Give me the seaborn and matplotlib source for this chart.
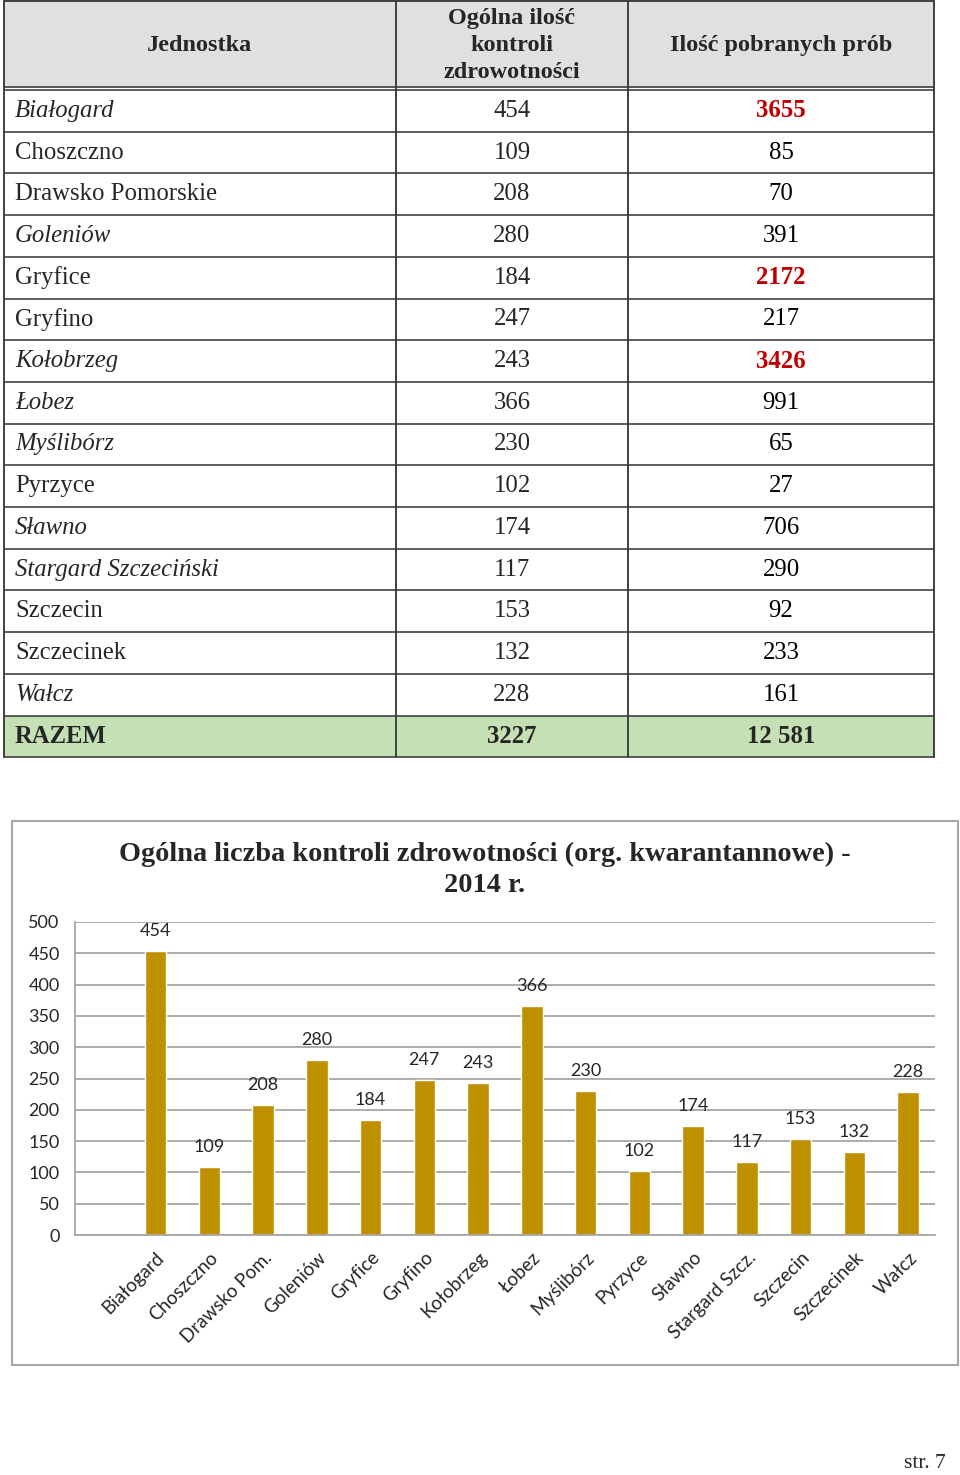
import numpy as np
import pandas as pd
import seaborn as sns
import matplotlib.pyplot as plt
from matplotlib.patches import Rectangle

# table data
units = ["Białogard", "Choszczno", "Drawsko Pomorskie", "Goleniów", "Gryfice", "Gryfino",
         "Kołobrzeg", "Łobez", "Myślibórz", "Pyrzyce", "Sławno", "Stargard Szczeciński",
         "Szczecin", "Szczecinek", "Wałcz"]
controls = [454, 109, 208, 280, 184, 247, 243, 366, 230, 102, 174, 117, 153, 132, 228]
samples = [3655, 85, 70, 391, 2172, 217, 3426, 991, 65, 27, 706, 290, 92, 233, 161]
italic_units = ["Białogard", "Goleniów", "Kołobrzeg", "Łobez", "Myślibórz", "Sławno",
                "Stargard Szczeciński", "Wałcz"]
headers = ["Jednostka", "Ogólna ilość\nkontroli\nzdrowotności", "Ilość pobranych prób"]
total_row = ["RAZEM", "3227", "12 581"]

# chart labels
short_units = ["Białogard", "Choszczno", "Drawsko Pom.", "Goleniów", "Gryfice", "Gryfino",
               "Kołobrzeg", "Łobez", "Myślibórz", "Pyrzyce", "Sławno", "Stargard Szcz.",
               "Szczecin", "Szczecinek", "Wałcz"]
chart_title = "Ogólna liczba kontroli zdrowotności (org. kwarantannowe) -\n2014 r."

sns.set_style("white")
serif = "Liberation Serif"
sans = "Lato"

W, H = 960, 1475
fig = plt.figure(figsize=(9.6, 14.75), dpi=100)

# page layer in pixel coordinates
page = fig.add_axes([0, 0, 1, 1])
page.set_xlim(0, W)
page.set_ylim(H, 0)
page.axis("off")

cols = [4, 396, 628, 934]
head_top, head_bot = 1, 88
row_h = 41.7
n_rows = len(units) + 1
grid_c = "#404040"

page.add_patch(Rectangle((cols[0], head_top), cols[-1] - cols[0], head_bot - head_top,
                         facecolor="#e0e0e0", edgecolor="none"))
tot_y = head_bot + 2 + len(units) * row_h
page.add_patch(Rectangle((cols[0], tot_y), cols[-1] - cols[0], row_h,
                         facecolor="#c5e0b4", edgecolor="none"))

# header
for i, h in enumerate(headers):
    cx = (cols[i] + cols[i + 1]) / 2
    page.text(cx, (head_top + head_bot) / 2 + 1, h, ha="center", va="center",
              family=serif, fontweight="bold", fontsize=17.5, linespacing=1.4)

# body rows
for r, (u, c, s) in enumerate(zip(units, controls, samples)):
    yc = head_bot + 2 + r * row_h + row_h / 2
    page.text(cols[0] + 11, yc, u, ha="left", va="center", family=serif, fontsize=17.8,
              style="italic" if u in italic_units else "normal")
    page.text((cols[1] + cols[2]) / 2, yc, str(c), ha="center", va="center",
              family=serif, fontsize=17.8)
    big = s > 1000
    page.text((cols[2] + cols[3]) / 2, yc, str(s), ha="center", va="center",
              family=serif, fontsize=17.8, color="#c00000" if big else "black",
              fontweight="bold" if big else "normal")

yc = tot_y + row_h / 2
page.text(cols[0] + 11, yc, total_row[0], ha="left", va="center", family=serif,
          fontsize=17.8, fontweight="bold")
for i in (1, 2):
    page.text((cols[i] + cols[i + 1]) / 2, yc, total_row[i], ha="center", va="center",
              family=serif, fontsize=17.8, fontweight="bold")

# table lines
bottom = tot_y + row_h
for x in cols:
    page.plot([x, x], [head_top, bottom], color=grid_c, lw=1.4)
page.plot([cols[0], cols[-1]], [head_top, head_top], color=grid_c, lw=1.4)
page.plot([cols[0], cols[-1]], [head_bot - 1, head_bot - 1], color=grid_c, lw=1.2)
page.plot([cols[0], cols[-1]], [head_bot + 2, head_bot + 2], color=grid_c, lw=1.2)
for r in range(1, n_rows + 1):
    y = head_bot + 2 + r * row_h
    page.plot([cols[0], cols[-1]], [y, y], color=grid_c, lw=1.2)

# chart frame
page.add_patch(Rectangle((12, 821), 946, 544, facecolor="none", edgecolor="#a6a6a6", lw=1.5))
page.text(485, 870, chart_title, ha="center", va="center", family=serif,
          fontweight="bold", fontsize=20.4, linespacing=1.3)
page.text(946, 1463, "str. 7", ha="right", va="center", family=serif, fontsize=15.5)

# bar chart
ax = fig.add_axes([75 / W, 1 - 1235 / H, 860 / W, 313 / H])
df = pd.DataFrame({"unit": short_units, "count": controls})
sns.barplot(data=df, x="unit", y="count", color="#bf9000", width=0.4, saturation=1, ax=ax)
ax.set_xlim(-1.5, len(short_units) - 0.5)
ax.set_ylim(0, 500)
ax.set_yticks(np.arange(0, 501, 50))
ax.yaxis.grid(True, color="#a6a6a6", lw=1.3)
ax.set_axisbelow(True)
ax.set_xlabel("")
ax.set_ylabel("")
for side in ("top", "right"):
    ax.spines[side].set_visible(False)
for side in ("left", "bottom"):
    ax.spines[side].set_color("#a6a6a6")
    ax.spines[side].set_linewidth(1.3)
ax.tick_params(axis="y", length=6, color="#a6a6a6", width=1.3, labelsize=13, pad=5)
ax.set_xticks(np.arange(-1.5, len(short_units), 1), minor=True)
ax.tick_params(axis="x", which="minor", length=6, color="#a6a6a6", width=1.3)
ax.tick_params(axis="x", which="major", length=0, pad=10)
ax.set_xticks(range(len(short_units)))
ax.set_xticklabels(short_units, rotation=45, ha="right", rotation_mode="anchor",
                   fontsize=13.5, family=sans)
for lab in ax.get_yticklabels():
    lab.set_family(sans)
for i, v in enumerate(controls):
    ax.text(i, v + 19, str(v), ha="center", va="bottom", fontsize=13, family=sans)

fig.savefig("out.png", dpi=100)
